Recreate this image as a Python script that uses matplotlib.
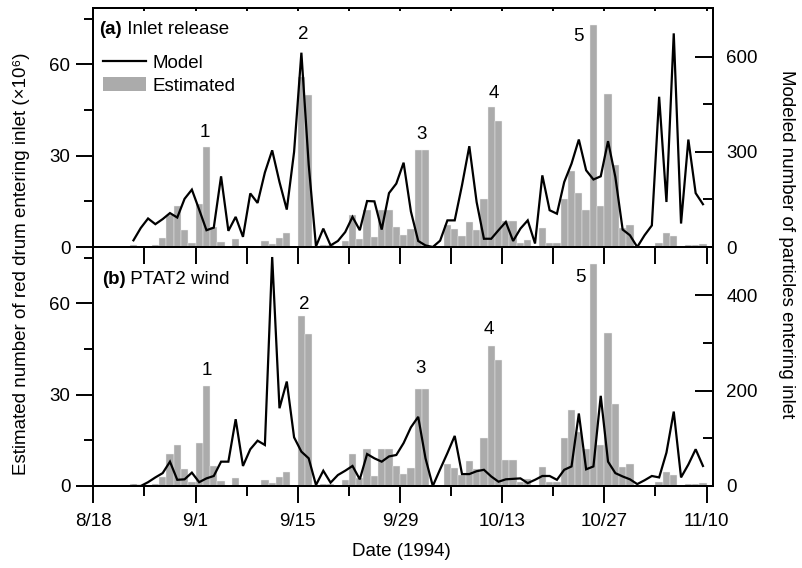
import numpy as np
import pandas as pd
import matplotlib
matplotlib.use("Agg")
import matplotlib.pyplot as plt
import matplotlib.dates as mdates
from matplotlib.ticker import FixedLocator, NullFormatter, FuncFormatter
from matplotlib.lines import Line2D
from matplotlib.patches import Patch

plt.rcParams['font.family'] = ['Liberation Sans', 'DejaVu Sans']

# ---------------- data ----------------
first_day = "1994-08-23"   # first daily value (values are daily)

estimated = [0.5, 0, 0, 0.7, 3.0, 10.5, 13.4, 5.7, 1.2, 14,
             33, 6.5, 1.8, 0, 2.6, 0, 0.4, 0, 2.1, 1.0,
             2.8, 4.7, 0, 56, 50, 0, 0.6, 0.6, 0, 2.0,
             10.5, 2.5, 12, 3.4, 12, 12, 6.6, 3.8, 5.8, 32,
             31.7, 0, 0, 7.2, 6.0, 3.6, 8.2, 5.5, 15.8, 46,
             41.5, 8.6, 8.5, 1.2, 2.4, 0.4, 6.1, 1.2, 1.3, 15.8,
             24.8, 17.6, 12, 73, 13.4, 50.3, 26.8, 6.2, 7.3, 0,
             0, 0, 1.3, 4.5, 3.5, 0.3, 0.5, 0.7, 0.9]

model_inlet = [21, 60, 90, 72, 88, 107, 93, 152, 181, 118,
               53, 61, 223, 51, 95, 32, 169, 139, 235, 305,
               205, 118, 300, 613, 260, 2, 58, 5, 19, 47,
               95, 53, 145, 144, 55, 170, 200, 266, 112, 19,
               5, 0, 20, 84, 84, 195, 318, 142, 26, 26,
               53, 79, 19, 58, 84, 11, 226, 116, 105, 205,
               263, 339, 242, 213, 223, 334, 221, 55, 37, 0,
               37, 68, 474, 142, 674, 74, 339, 170, 135]

model_ptat2 = [0, 0, 8, 18, 27, 51, 13, 14, 28, 8,
               16, 21, 51, 51, 140, 42, 77, 95, 86, 480,
               163, 219, 102, 72, 58, 2, 32, 7, 23, 32,
               42, 14, 67, 58, 51, 62, 65, 90, 123, 145,
               58, 0, 35, 69, 105, 25, 25, 31, 34, 20,
               9, 14, 15, 16, 6, 13, 21, 21, 13, 34,
               41, 152, 35, 41, 189, 51, 27, 20, 14, 4,
               12, 21, 18, 70, 156, 18, 45, 77, 42]

tick_start, tick_end = "1994-08-18", "1994-11-10"
panel_titles = [("(a)", " Inlet release"), ("(b)", " PTAT2 wind")]
peak_labels = ["1", "2", "3", "4", "5"]
left_label = "Estimated number of red drum entering inlet (×10⁶)"
right_label = "Modeled number of particles entering inlet"
x_label = "Date (1994)"

# ---------------- figure ----------------
FS = 13.5
W, H = 802, 568
fig = plt.figure(figsize=(W / 100, H / 100), dpi=100)

L = 93.3 / W
AW = 620 / W
AH = 239 / H
axA = fig.add_axes([L, 1 - 247 / H, AW, AH])
axB = fig.add_axes([L, 1 - 486 / H, AW, AH])
axB.patch.set_visible(False)

dates = pd.date_range(first_day, periods=len(estimated), freq="D") + pd.Timedelta(hours=12)
major_ticks = pd.date_range(tick_start, tick_end, freq="14D")
minor_ticks = pd.date_range(tick_start, tick_end, freq="7D")
xlim = (pd.Timestamp(tick_start), pd.Timestamp(tick_end) + pd.Timedelta(hours=22))

bar_color = "#ababab"
lw_spine = 1.4

def date_fmt(x, pos):
    d = mdates.num2date(x)
    return f"{d.month}/{d.day}"

right_specs = [
    (model_inlet, 754, [0, 300, 600], [150, 450]),
    (model_ptat2, 501, [0, 200, 400], [100, 300]),
]

# peak label positions (days after tick_start, left-axis units) per panel
peak_pos = [
    [(15.3, 37.6), (28.8, 69.8), (45.0, 36.9), (54.8, 50.4), (66.5, 69.0)],
    [(15.55, 38.1), (28.9, 59.7), (44.8, 38.7), (54.2, 51.5), (66.7, 68.6)],
]

for i, (ax, (model, rtop, rmaj, rmin)) in enumerate(zip([axA, axB], right_specs)):
    ax.bar(dates, estimated, width=1.0, color=bar_color, edgecolor="#f2f2f2",
           linewidth=0.3, zorder=2)
    ax.set_xlim(*xlim)
    ax.set_ylim(0, 78.5)
    ax.yaxis.set_major_locator(FixedLocator([0, 30, 60]))
    ax.yaxis.set_minor_locator(FixedLocator([15, 45, 75]))
    ax.tick_params(axis="y", which="major", direction="out", length=12.5,
                   width=lw_spine, pad=4.0, labelsize=FS)
    ax.tick_params(axis="y", which="minor", direction="out", length=6.5,
                   width=lw_spine)
    ax.xaxis.set_major_locator(FixedLocator(mdates.date2num(major_ticks)))
    ax.xaxis.set_minor_locator(FixedLocator(mdates.date2num(minor_ticks)))
    for s in ax.spines.values():
        s.set_linewidth(lw_spine)

    tw = ax.twinx()
    tw.plot(dates, model, color="black", linewidth=1.6, zorder=3,
            solid_joinstyle="miter")
    tw.set_ylim(0, rtop)
    tw.yaxis.set_major_locator(FixedLocator(rmaj))
    tw.yaxis.set_minor_locator(FixedLocator(rmin))
    tw.tick_params(axis="y", which="major", direction="in", length=13,
                   width=lw_spine, pad=9.4, labelsize=FS)
    tw.tick_params(axis="y", which="minor", direction="in", length=7.2,
                   width=lw_spine)
    for s in tw.spines.values():
        s.set_linewidth(lw_spine)

    # panel title with bold tag
    t1 = ax.text(0.0097 if i == 0 else 0.0135, 0.912 if i == 0 else 0.862,
                 panel_titles[i][0], transform=ax.transAxes, fontsize=FS,
                 fontweight="bold", va="center", ha="left", zorder=5)
    ax.annotate(panel_titles[i][1], xy=(1, 0), xycoords=t1, fontsize=FS,
                va="bottom", ha="left", zorder=5)

    for lab, (dx, yv) in zip(peak_labels, peak_pos[i]):
        ax.text(pd.Timestamp(tick_start) + pd.Timedelta(days=dx), yv, lab,
                fontsize=FS, ha="center", va="center", zorder=5)

# panel A: bottom ticks pointing down into panel B, top ticks short inward
axA.tick_params(axis="x", which="both", direction="out", length=12.5,
                width=lw_spine, labelbottom=False)
secA = axA.secondary_xaxis("top")
secA.xaxis.set_major_locator(FixedLocator(mdates.date2num(minor_ticks)))
secA.xaxis.set_major_formatter(NullFormatter())
secA.tick_params(axis="x", which="major", direction="in", length=2.5,
                 width=lw_spine)
secA.spines["top"].set_linewidth(lw_spine)

# panel B: bottom date labels
axB.xaxis.set_major_formatter(FuncFormatter(date_fmt))
axB.tick_params(axis="x", which="major", direction="out", length=12.5,
                width=lw_spine, pad=7, labelsize=FS)
axB.tick_params(axis="x", which="minor", direction="out", length=7.2,
                width=lw_spine)

# legend in panel A
handles = [Line2D([0], [0], color="black", linewidth=1.6),
           Patch(facecolor=bar_color, edgecolor="none")]
leg = axA.legend(handles, ["Model", "Estimated"], loc="upper left",
                 bbox_to_anchor=(0.0156, 0.805), frameon=False, fontsize=FS,
                 borderpad=0, borderaxespad=0, handlelength=2.3,
                 handleheight=0.8, handletextpad=0.35, labelspacing=0.25)
leg.set_zorder(6)

fig.text(22 / W, 1 - 264 / H, left_label, rotation=90, fontsize=FS,
         ha="center", va="center")
fig.text(786 / W, 1 - 244 / H, right_label, rotation=270, fontsize=FS,
         ha="center", va="center")
fig.text(401 / W, 1 - 551 / H, x_label, fontsize=FS, ha="center", va="center")

fig.savefig("out.png", dpi=100)
